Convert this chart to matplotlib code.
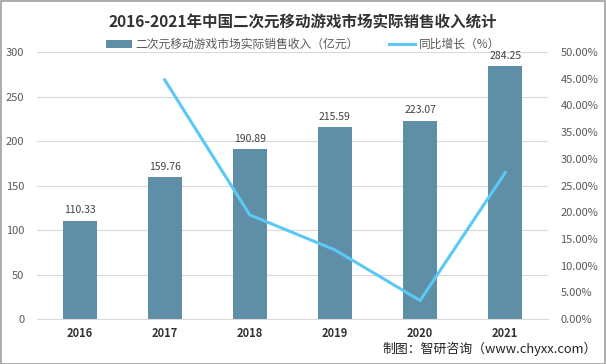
import matplotlib
matplotlib.use("Agg")
import matplotlib.pyplot as plt

plt.rcParams['font.family'] = ['Noto Sans CJK SC', 'DejaVu Sans']

years = ["2016", "2017", "2018", "2019", "2020", "2021"]
revenue = [110.33, 159.76, 190.89, 215.59, 223.07, 284.25]
growth_years = ["2017", "2018", "2019", "2020", "2021"]
growth = [44.80, 19.49, 12.94, 3.47, 27.43]

bar_color = "#5f8fa6"
line_color = "#5bc8f5"
text_color = "#595959"

fig = plt.figure(figsize=(6.06, 3.64), dpi=100)
ax = fig.add_axes([0.061, 0.1236, 0.843, 0.7334])

x = list(range(len(years)))
ax.bar(x, revenue, width=0.4, color=bar_color, zorder=2,
       label="二次元移动游戏市场实际销售收入（亿元）")
for xi, v in zip(x, revenue):
    ax.text(xi, v + 6, f"{v:.2f}", ha="center", va="bottom", fontsize=7.5, color="#404040")

ax.set_ylim(0, 300)
ax.set_yticks(range(0, 301, 50))
ax.set_xlim(-0.5, len(years) - 0.5)
ax.set_xticks(x)
ax.set_xticklabels(years, fontsize=8, fontweight="bold", color="#333333")
ax.tick_params(axis="y", labelsize=8, colors=text_color, length=0, pad=9)
ax.tick_params(axis="x", length=0, pad=6)
ax.grid(axis="y", color="#d9d9d9", linewidth=0.8, zorder=0)
for s in ["top", "right", "left"]:
    ax.spines[s].set_visible(False)
ax.spines["bottom"].set_color("#d9d9d9")

ax2 = ax.twinx()
gx = [years.index(y) for y in growth_years]
ax2.plot(gx, growth, color=line_color, linewidth=2.2, zorder=3, label="同比增长（%）")
ax2.set_ylim(0, 50)
ax2.set_yticks(range(0, 51, 5))
ax2.set_yticklabels([f"{t:.2f}%" for t in range(0, 51, 5)])
ax2.tick_params(axis="y", labelsize=8, colors=text_color, length=0, pad=9)
for s in ["top", "right", "left", "bottom"]:
    ax2.spines[s].set_visible(False)

fig.text(0.5, 0.938, "2016-2021年中国二次元移动游戏市场实际销售收入统计",
         ha="center", va="center", fontsize=11.2, fontweight="bold", color="#333333")

h1, l1 = ax.get_legend_handles_labels()
h2, l2 = ax2.get_legend_handles_labels()
fig.legend(h1 + h2, l1 + l2, loc="center", bbox_to_anchor=(0.5, 0.878), ncol=2,
           frameon=False, fontsize=8.5, labelcolor=text_color, handlelength=2.2,
           columnspacing=2.6, handletextpad=0.3)

fig.text(0.984, 0.022, "制图：智研咨询（www.chyxx.com）", ha="right", va="bottom",
         fontsize=9.3, color="#222222")

border = plt.Rectangle((0.001, 0.001), 0.997, 0.997, transform=fig.transFigure,
                       fill=False, edgecolor="#9e9e9e", linewidth=1.2)
fig.patches.append(border)

fig.savefig("out.png", dpi=100)
